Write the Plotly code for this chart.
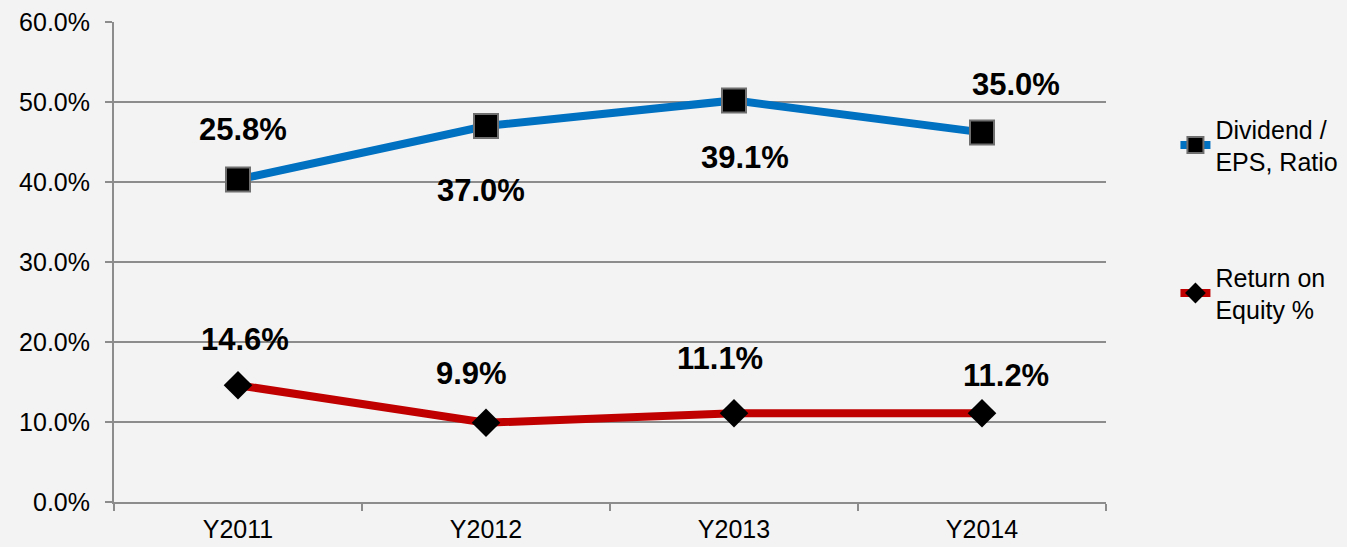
import plotly.graph_objects as go

categories = ["Y2011", "Y2012", "Y2013", "Y2014"]
div_eps_values = [40.3, 47.0, 50.2, 46.2]
div_eps_labels = ["25.8%", "37.0%", "39.1%", "35.0%"]
roe_values = [14.6, 9.9, 11.1, 11.1]
roe_labels = ["14.6%", "9.9%", "11.1%", "11.2%"]
y_ticks = [0, 10, 20, 30, 40, 50, 60]
y_tick_labels = ["0.0%", "10.0%", "20.0%", "30.0%", "40.0%", "50.0%", "60.0%"]

# label offsets (pixels) relative to their points
div_shift = [(5, 50), (-5, -64), (11, -57), (34, 48)]
roe_shift = [(7, 46), (-15, 49), (-14, 55), (24, 38)]

FONT = "Liberation Sans, Arial, Helvetica, sans-serif"
BLUE = "#0070C0"
RED = "#C00000"
GRID = "#8c8c8c"
BG = "#f3f3f3"

fig = go.Figure()
fig.add_trace(go.Scatter(
    x=categories, y=div_eps_values, mode="lines+markers",
    name="Dividend /<br>EPS, Ratio", legendgroup="a",
    line=dict(color=BLUE, width=8),
    marker=dict(symbol="square", size=24, color="black",
                line=dict(color="#6f6f6f", width=2)),
))
fig.add_trace(go.Scatter(
    x=categories, y=roe_values, mode="lines+markers",
    name="Return on<br>Equity %", legendgroup="b",
    line=dict(color=RED, width=8),
    marker=dict(symbol="diamond", size=22, color="black",
                line=dict(color="black", width=0)),
))

annotations = []
for c, v, t, (dx, dy) in zip(categories, div_eps_values, div_eps_labels, div_shift):
    annotations.append(dict(x=c, y=v, text=t, showarrow=False, xshift=dx, yshift=dy,
                            font=dict(family=FONT, size=31, color="black", weight="bold")))
for c, v, t, (dx, dy) in zip(categories, roe_values, roe_labels, roe_shift):
    annotations.append(dict(x=c, y=v, text=t, showarrow=False, xshift=dx, yshift=dy,
                            font=dict(family=FONT, size=31, color="black", weight="bold")))

fig.update_layout(
    width=1347, height=547,
    margin=dict(l=114, r=241, t=22, b=45, autoexpand=False),
    paper_bgcolor=BG, plot_bgcolor=BG,
    font=dict(family=FONT, size=25, color="black"),
    annotations=annotations,
    showlegend=True,
    legend=dict(x=1.07, xanchor="left", y=0.825, yanchor="top",
                bgcolor="rgba(0,0,0,0)", tracegroupgap=80,
                traceorder="grouped",
                font=dict(family=FONT, size=25, color="black")),
)
fig.update_xaxes(
    type="category", range=[-0.5, 3.5], automargin=False,
    showline=True, linecolor=GRID, linewidth=2,
    ticks="outside", tickson="boundaries", ticklen=7, tickcolor=GRID, tickwidth=2,
    showgrid=False, tickfont=dict(size=25), ticklabelstandoff=4,
)
fig.update_yaxes(
    range=[0, 60], tickvals=y_ticks, ticktext=y_tick_labels, automargin=False,
    showline=True, linecolor=GRID, linewidth=2,
    ticks="outside", ticklen=7, tickcolor=GRID, tickwidth=2,
    showgrid=True, gridcolor=GRID, gridwidth=1.5, zeroline=False,
    tickfont=dict(size=25), ticklabelstandoff=10,
)

fig.write_html(
    "out.html",
    config={"displayModeBar": False},
    post_script=(
        "document.body.style.margin='0';"
        "document.body.style.overflow='hidden';"
        "document.documentElement.style.overflow='hidden';"
        "document.body.style.background='" + BG + "';"
    ),
)
